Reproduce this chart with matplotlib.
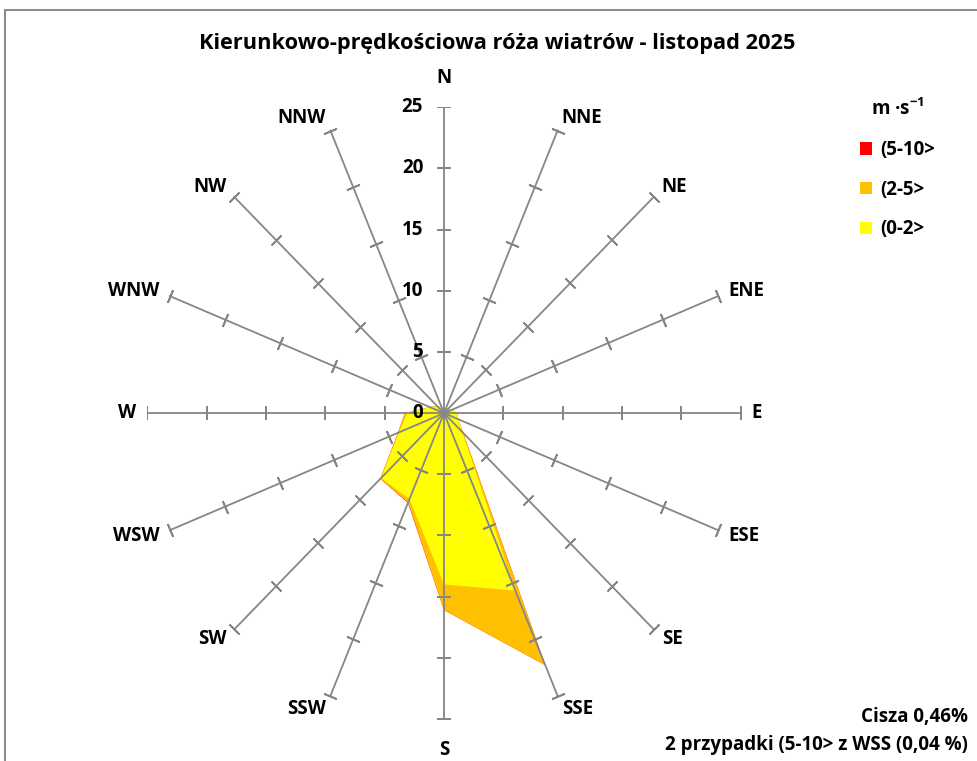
import numpy as np
import matplotlib
matplotlib.use("Agg")
import matplotlib.pyplot as plt
from matplotlib.patches import Patch, Rectangle

plt.rcParams['font.family'] = ['Open Sans', 'DejaVu Sans']
plt.rcParams['font.weight'] = 'bold'
plt.rcParams['mathtext.fontset'] = 'custom'
plt.rcParams['mathtext.bf'] = 'Open Sans:bold'
plt.rcParams['mathtext.rm'] = 'Open Sans:bold'
plt.rcParams['mathtext.default'] = 'bf'

directions = ['N', 'NNE', 'NE', 'ENE', 'E', 'ESE', 'SE', 'SSE',
              'S', 'SSW', 'SW', 'WSW', 'W', 'WNW', 'NW', 'NNW']

# cumulative frequencies [%] per speed class
speed_0_2 = [0.4, 0.4, 0.5, 0.7, 1.1, 1.3, 2.2, 15.7,
             14.0, 7.6, 7.5, 4.1, 3.1, 1.3, 0.8, 0.5]
speed_2_5 = [0.4, 0.4, 0.5, 0.7, 1.1, 1.3, 2.3, 22.3,
             16.1, 7.9, 7.6, 4.2, 3.3, 1.3, 0.8, 0.5]
speed_5_10 = [0.4, 0.4, 0.5, 0.7, 1.1, 1.3, 2.3, 22.3,
              16.1, 7.94, 7.6, 4.2, 3.3, 1.3, 0.8, 0.5]

series_labels = ['(5-10>', '(2-5>', '(0-2>']
series_colors = ['#FF0000', '#FFC000', '#FFFF00']
radial_ticks = [0, 5, 10, 15, 20, 25]
rmax = 25

title = 'Kierunkowo-prędkościowa róża wiatrów - listopad 2025'
note1 = 'Cisza 0,46%'
note2 = '2 przypadki (5-10> z WSS (0,04 %)'

W, H = 977, 761
fig = plt.figure(figsize=(W / 100, H / 100), dpi=100)
# axes box in pixels: x 147..741, y 107..719
ax = fig.add_axes([147.3 / W, 1 - 719 / H, 593.4 / W, 611.7 / H])
ax.set_xlim(-rmax, rmax)
ax.set_ylim(-rmax, rmax)
ax.axis('off')

theta = np.deg2rad(np.arange(len(directions)) * 22.5)
grey = '#868686'

# filled areas, largest first
for vals, col in zip([speed_5_10, speed_2_5, speed_0_2], series_colors):
    r = np.array(vals)
    ax.fill(r * np.sin(theta), r * np.cos(theta), color=col, lw=0, zorder=2)

# spokes with tick marks
for name, t in zip(directions, theta):
    ax.plot([0, rmax * np.sin(t)], [0, rmax * np.cos(t)], color=grey, lw=1.3, zorder=3)
    tr = np.array(radial_ticks[1:])
    ax.plot(tr * np.sin(t), tr * np.cos(t), ls='none',
            marker=(2, 2, 90 - np.rad2deg(t)), ms=10, mec=grey, mew=1.3, zorder=3)
    s, c = np.sin(t), np.cos(t)
    ha = 'left' if s > 0.1 else ('right' if s < -0.1 else 'center')
    va = 'center'
    dy = 0
    if c > 0.99:
        va, dy = 'bottom', 4
    elif c < -0.99:
        va, dy = 'top', -5
    ax.annotate(name, (rmax * s, rmax * c), xytext=(8 * s, 10 * c + dy),
                textcoords='offset points', ha=ha, va=va, fontsize=13.5, fontweight='bold')

for v in radial_ticks:
    ax.annotate(str(v), (0, v), xytext=(-15, 0), textcoords='offset points',
                ha='right', va='center', fontsize=13.5, fontweight='bold', zorder=4)

fig.text(497 / W, 1 - 44 / H, title, ha='center', va='center', fontsize=15.7, fontweight='bold')

handles = [Patch(facecolor=c, edgecolor='none') for c in series_colors]
fig.legend(handles, series_labels, loc='upper left', bbox_to_anchor=(843 / W, 1 - 82 / H),
           frameon=False, title='m ·s$^{-1}$', title_fontproperties={'weight': 'bold', 'size': 13.5},
           prop={'weight': 'bold', 'size': 13.5}, handlelength=0.65, handleheight=0.65,
           handletextpad=0.45, labelspacing=1.05)

fig.text(968 / W, 1 - 717 / H, note1, ha='right', va='center', fontsize=13.5, fontweight='bold')
fig.text(968 / W, 1 - 745 / H, note2, ha='right', va='center', fontsize=13.5, fontweight='bold')

# chart frame (top and left edge visible)
fig.patches.append(Rectangle((5 / W, -0.1), 1.2, 1 - 10 / H + 0.1, transform=fig.transFigure,
                             fill=False, edgecolor='#8c8c8c', lw=1.5))

fig.savefig('out.png', dpi=100)
